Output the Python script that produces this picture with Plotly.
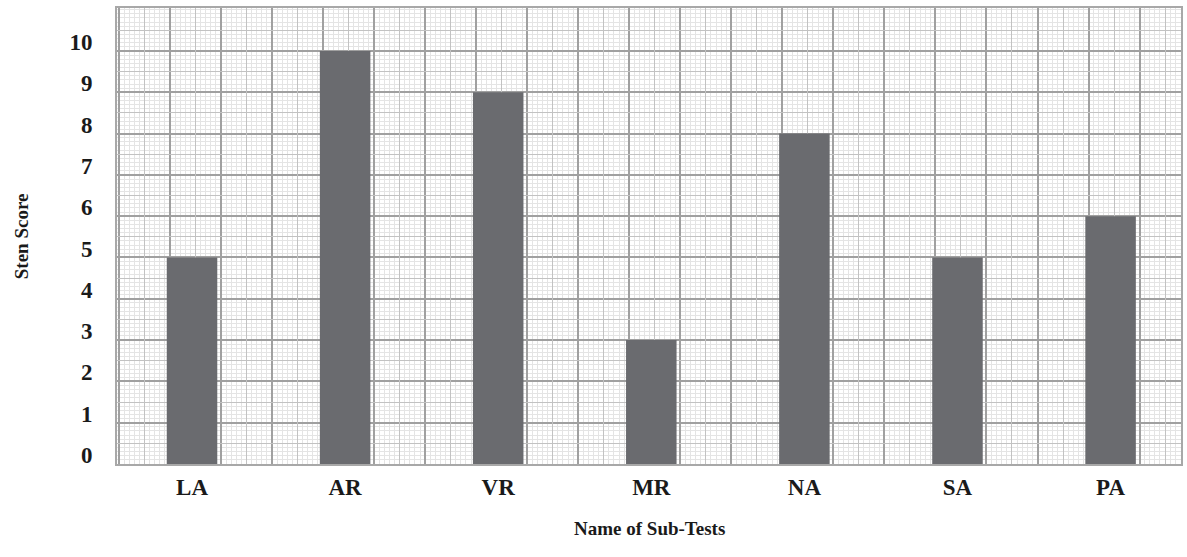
import plotly.graph_objects as go

categories = ["LA", "AR", "VR", "MR", "NA", "SA", "PA"]
sten_scores = [5, 10, 9, 3, 8, 5, 6]
y_ticks = list(range(0, 11))

FONT = "Liberation Serif"
X_RANGE = [-0.49, 6.46]
Y_RANGE = [0, 11.04]
DARK = "#a0a0a0"
MED = "#c2c2c2"
LIGHT = "#e4e4e4"
BAR = "#6a6b6f"
TXT = "#1a1a1a"

fig = go.Figure()

# invisible helper traces so the graph-paper grid overlay axes render
fig.add_trace(go.Scatter(x=[X_RANGE[0]], y=[0], xaxis="x2", yaxis="y2", mode="markers",
                         marker=dict(opacity=0), hoverinfo="skip", showlegend=False))
fig.add_trace(go.Scatter(x=[X_RANGE[0]], y=[0], xaxis="x3", yaxis="y2", mode="markers",
                         marker=dict(opacity=0), hoverinfo="skip", showlegend=False))

fig.add_trace(go.Bar(x=categories, y=sten_scores, width=0.33,
                     marker=dict(color=BAR, line=dict(width=0)), showlegend=False))

fig.update_layout(
    width=1187, height=557,
    margin=dict(l=117, r=4, t=8, b=93),
    paper_bgcolor="white", plot_bgcolor="white",
    font=dict(family=FONT, color=TXT),
    xaxis=dict(type="category", range=X_RANGE, showgrid=False, ticks="",
               tickfont=dict(family=FONT, size=23, weight="bold", color=TXT),
               ticklabelstandoff=1,
               showline=True, linecolor="#a8a8a8", linewidth=2, mirror=True, zeroline=False),
    yaxis=dict(range=Y_RANGE, tickvals=y_ticks, ticks="",
               tickfont=dict(family=FONT, size=23, weight="bold", color=TXT),
               ticklabelstandoff=18, ticklabelshift=-9,
               showgrid=True, gridcolor=DARK, gridwidth=1.5,
               minor=dict(dtick=0.1, showgrid=True, gridcolor=LIGHT, gridwidth=1),
               showline=True, linecolor="#a8a8a8", linewidth=2, mirror=True, zeroline=False),
    xaxis2=dict(overlaying="x", range=X_RANGE, tick0=-0.144, dtick=1/3,
                showticklabels=False, ticks="", showgrid=True, gridcolor=DARK, gridwidth=1.5,
                minor=dict(dtick=1/30, tick0=-0.144, showgrid=True, gridcolor=LIGHT, gridwidth=1),
                zeroline=False, showline=False),
    xaxis3=dict(overlaying="x", range=X_RANGE, tick0=-0.144 + 1/6, dtick=1/3,
                showticklabels=False, ticks="", showgrid=True, gridcolor=MED, gridwidth=1,
                zeroline=False, showline=False),
    yaxis2=dict(overlaying="y", range=Y_RANGE, tick0=0.5, dtick=1,
                showticklabels=False, ticks="", showgrid=True, gridcolor=MED, gridwidth=1,
                zeroline=False, showline=False),
    annotations=[
        dict(text="Sten Score", textangle=-90, xref="paper", yref="paper",
             x=-0.09, y=0.5, xanchor="center", yanchor="middle", showarrow=False,
             font=dict(family=FONT, size=19, weight="bold", color=TXT)),
        dict(text="Name of Sub-Tests", xref="paper", yref="paper",
             x=0.5, y=-0.142, xanchor="center", yanchor="middle", showarrow=False,
             font=dict(family=FONT, size=19, weight="bold", color=TXT)),
    ],
)

fig.write_html("out.html", config={"displayModeBar": False},
               post_script="document.body.style.margin='0';")
